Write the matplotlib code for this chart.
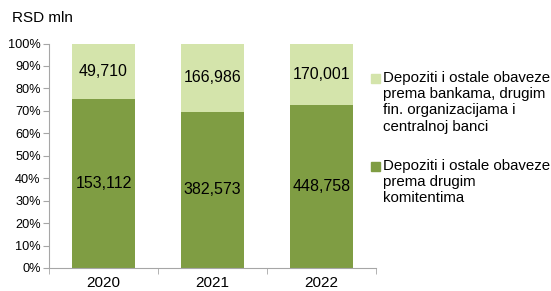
import numpy as np
import matplotlib.pyplot as plt
from matplotlib.patches import Rectangle

plt.rcParams['font.family'] = ['Liberation Sans', 'DejaVu Sans']

godine = ["2020", "2021", "2022"]
komitenti = [153112, 382573, 448758]
banke = [49710, 166986, 170001]
oznake = ["Depoziti i ostale obaveze\nprema bankama, drugim\nfin. organizacijama i\ncentralnoj banci",
          "Depoziti i ostale obaveze\nprema drugim\nkomitentima"]

tamna = "#7F9D43"
svetla = "#D4E4AB"
siva = "#A6A6A6"

kom = np.array(komitenti, dtype=float)
ban = np.array(banke, dtype=float)
ukupno = kom + ban
p_kom = kom / ukupno * 100
p_ban = ban / ukupno * 100

fig = plt.figure(figsize=(5.51, 2.91), dpi=100)
ax = fig.add_axes([49/551, 1 - 268/291, 327/551, 224.5/291])

x = np.arange(len(godine))
ax.bar(x, p_kom, width=0.57, color=tamna, zorder=2)
ax.bar(x, p_ban, width=0.57, bottom=p_kom, color=svetla, zorder=2)

for i in range(len(godine)):
    ax.text(x[i], p_kom[i] / 2, f"{komitenti[i]:,}", ha="center", va="center", fontsize=11.5, color="black")
    ax.text(x[i], p_kom[i] + p_ban[i] / 2, f"{banke[i]:,}", ha="center", va="center", fontsize=11.5, color="black")

ax.set_xlim(-0.5, 2.5)
ax.set_ylim(0, 100)
ax.set_yticks(np.arange(0, 101, 10))
ax.set_yticklabels([f"{v}%" for v in range(0, 101, 10)], fontsize=9.2)
ax.set_xticks(x)
ax.set_xticklabels(godine, fontsize=11)
ax.set_xticks([-0.5, 0.5, 1.5, 2.5], minor=True)
ax.tick_params(axis="x", which="major", length=0, pad=6)
ax.tick_params(axis="x", which="minor", length=4, color=siva)
ax.tick_params(axis="y", length=4, color=siva, pad=2)

for s in ["top", "right"]:
    ax.spines[s].set_visible(False)
ax.spines["left"].set_color(siva)
ax.spines["bottom"].set_color(siva)

fig.text(12/551, 1 - 18/291, "RSD mln", fontsize=11, va="center", ha="left")

# legenda
kvadrati = [(74, svetla, 71), (162, tamna, 159)]
for (y0, boja, yt), tekst in zip(kvadrati, oznake):
    fig.patches.append(Rectangle((371/551, 1 - (y0 + 9)/291), 9/551, 9/291,
                                 transform=fig.transFigure, color=boja))
    fig.text(383/551, 1 - yt/291, tekst, fontsize=10.8, va="top", ha="left", linespacing=1.2)

fig.savefig("out.png", dpi=100)
